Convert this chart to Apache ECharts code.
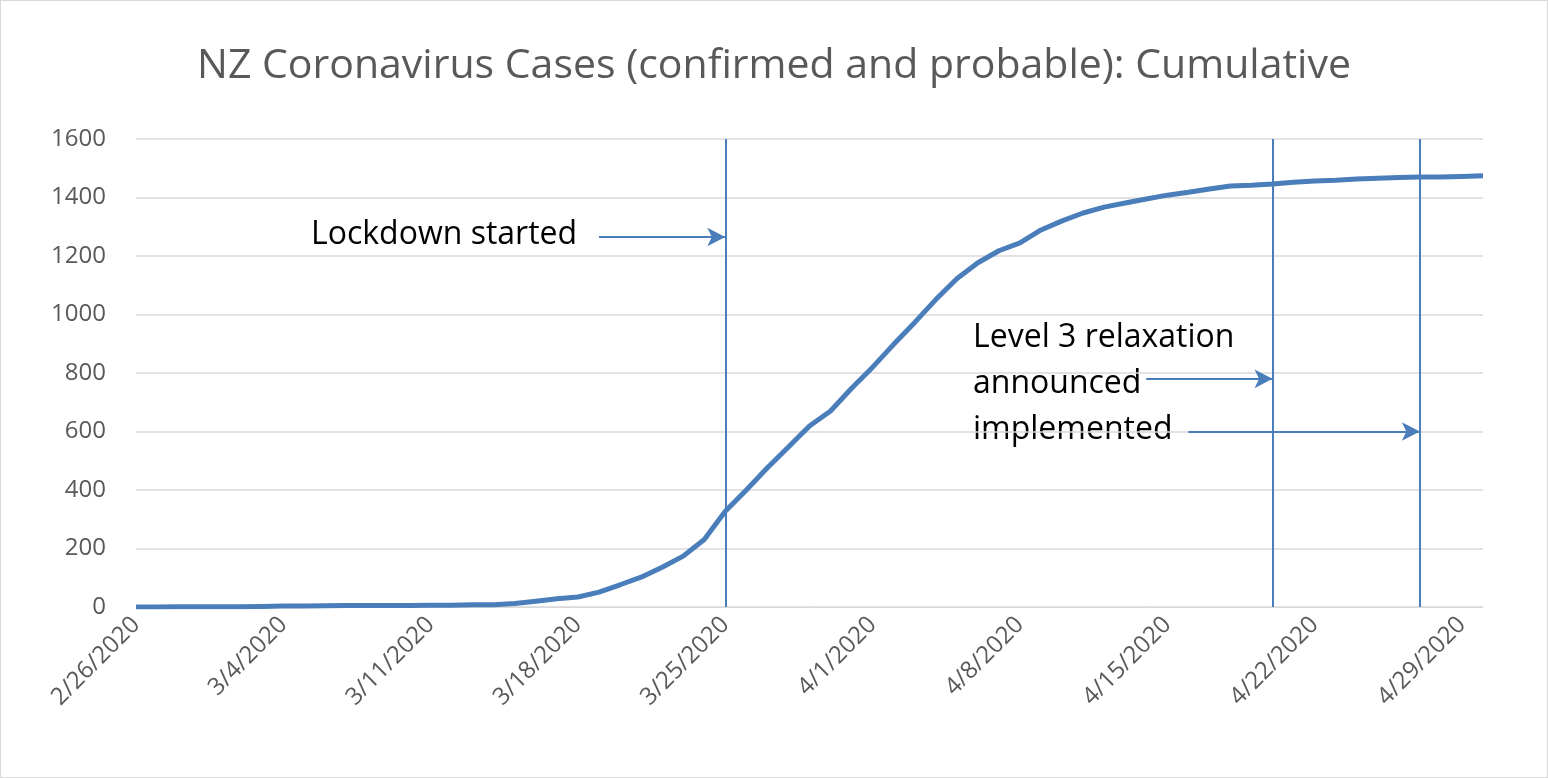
<!DOCTYPE html>
<html><head><meta charset="utf-8">
<script src="https://cdn.jsdelivr.net/npm/echarts@6/dist/echarts.min.js"></script>
<style>html,body{margin:0;padding:0;background:#fff}#c{width:1548px;height:778px;box-sizing:border-box;border:1px solid #d9d9d9}</style>
</head><body><div id="c"></div>
<script>
const startDate = new Date(2020,1,26);
const dates = [];
for (let i=0;i<65;i++){const d=new Date(startDate);d.setDate(d.getDate()+i);dates.push((d.getMonth()+1)+'/'+d.getDate()+'/2020');}
const cases = [0,0,1,1,1,1,2,3,3,4,5,5,5,5,6,6,8,8,12,20,28,34,51,76,102,136,174,231,327,400,476,547,619,670,748,820,898,973,1051,1122,1177,1218,1245,1289,1320,1347,1367,1381,1395,1408,1418,1429,1439,1442,1446,1452,1456,1459,1463,1466,1468,1470,1470,1472,1474];
const eventDates = ['3/25/2020','4/20/2020','4/27/2020'];
const ch = echarts.init(document.getElementById('c'));
const arrow = (x1,x2,y)=>[{coord:[x1,y]},{coord:[x2,y]}];
ch.setOption({
  animation:false,
  title:{text:'NZ Coronavirus Cases (confirmed and probable): Cumulative',left:'center',top:40,textStyle:{fontFamily:'Open Sans',fontSize:41,fontWeight:'normal',color:'#595959'}},
  grid:{left:135,right:64,top:138,bottom:170},
  xAxis:{type:'category',data:dates,boundaryGap:false,
    axisLine:{lineStyle:{color:'#d9d9d9'}},axisTick:{show:false},
    axisLabel:{interval:6,rotate:45,color:'#595959',fontSize:24,fontFamily:'Open Sans',margin:14}},
  yAxis:{type:'value',min:0,max:1600,interval:200,
    axisLabel:{color:'#595959',fontSize:24,fontFamily:'Open Sans',margin:30,formatter:v=>String(v)},
    splitLine:{lineStyle:{color:'#d9d9d9',width:1.5}},axisLine:{show:false}},
  series:[{type:'line',data:cases,symbol:'none',lineStyle:{color:'#4a7ebb',width:5},
    markLine:{silent:true,symbol:'none',label:{show:false},lineStyle:{color:'#4a7ebb',width:2,type:'solid'},
      data:[{xAxis:eventDates[0]},{xAxis:eventDates[1]},{xAxis:eventDates[2]}]}},
   {type:'line',data:[],markLine:{silent:true,symbol:['none','arrow'],symbolSize:[14,18],label:{show:false},
      lineStyle:{color:'#4a7ebb',width:2,type:'solid'},
      data:[arrow(22,27.5,1265),arrow(48.3,53.9,780),arrow(49.6,60.8,600)]}}],
  graphic:[
    {type:'text',left:310,top:218,style:{text:'Lockdown started',fontSize:32,fontFamily:'Open Sans',fill:'#000'}},
    {type:'text',left:972,top:314,style:{text:'Level 3 relaxation\nannounced\nimplemented',fontSize:32,lineHeight:46,fontFamily:'Open Sans',fill:'#000'}}
  ]
});
</script></body></html>
